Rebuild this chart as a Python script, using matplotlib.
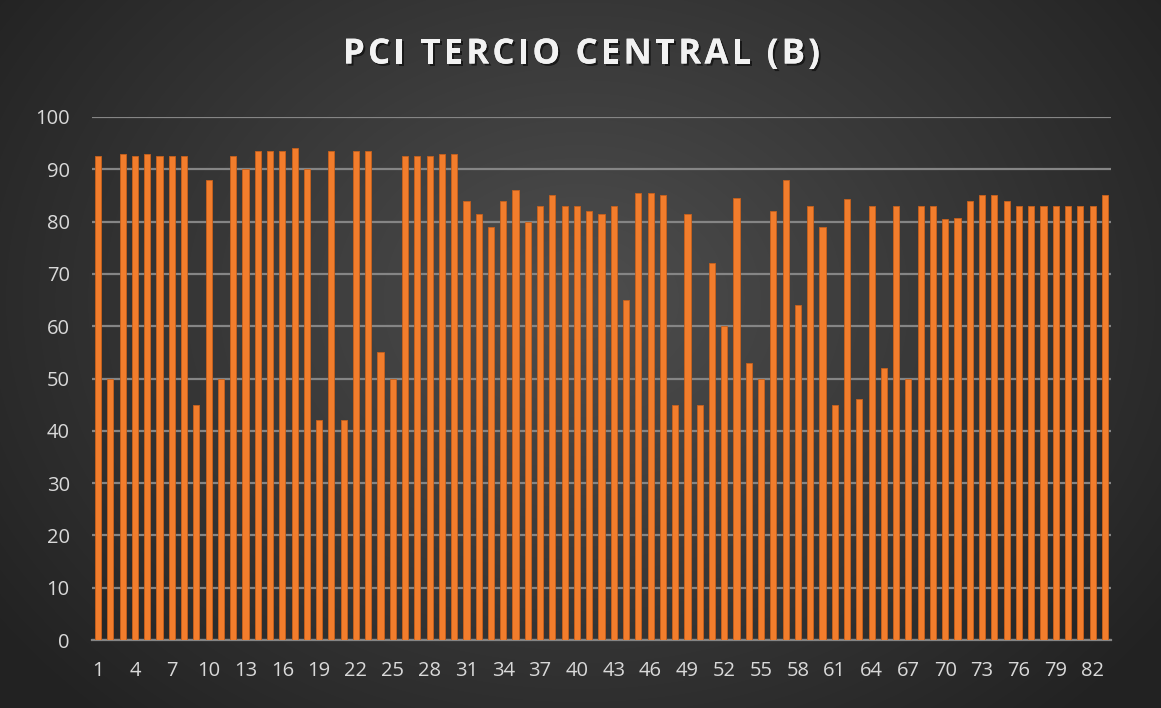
import numpy as np
import matplotlib
matplotlib.use("Agg")
import matplotlib.pyplot as plt
import matplotlib.patheffects as pe
from matplotlib.font_manager import FontProperties, findfont, get_font

categories = list(range(1, 84))
values = [92.5, 50, 93, 92.5, 93, 92.5, 92.5, 92.5, 45, 88,
          50, 92.5, 90, 93.5, 93.5, 93.5, 94, 90, 42, 93.5,
          42, 93.5, 93.5, 55, 50, 92.5, 92.5, 92.5, 93, 93,
          84, 81.5, 79, 84, 86, 80, 83, 85, 83, 83,
          82, 81.5, 83, 65, 85.5, 85.5, 85, 45, 81.5, 45,
          72, 60, 84.5, 53, 50, 82, 88, 64, 83, 79,
          45, 84.3, 46, 83, 52, 83, 50, 83, 83, 80.5,
          80.7, 84, 85, 85, 84, 83, 83, 83, 83, 83,
          83, 83, 85]
xtick_labels = [str(c) for c in categories[::3]]
ytick_values = list(range(0, 101, 10))
title = "PCI TERCIO CENTRAL (B)"

W, H = 1161, 708
fig = plt.figure(figsize=(W / 100, H / 100), dpi=100)

# background radial gradient
bg = fig.add_axes([0, 0, 1, 1], zorder=0)
yy, xx = np.mgrid[0:H, 0:W]
r = np.sqrt(((xx - 580) / 760.0) ** 2 + ((yy - 300) / 600.0) ** 2)
light = np.array([0x4e, 0x4e, 0x4e]) / 255.0
dark = np.array([0x22, 0x22, 0x22]) / 255.0
t = np.clip(r / 0.95, 0, 1)[..., None]
img = light * (1 - t) + dark * t
bg.imshow(img, aspect="auto", extent=[0, 1, 0, 1], origin="upper")
bg.axis("off")

ax = fig.add_axes([92 / W, 68 / H, (1111 - 92) / W, (640 - 117) / H], zorder=1)
ax.patch.set_alpha(0)
ax.bar(categories, values, width=0.5, color="#f27d2c", edgecolor="#c9611c",
       linewidth=0.6, zorder=3)
ax.set_xlim(0.5, 83.5)
ax.set_ylim(0, 100)
ax.set_yticks(ytick_values)
ax.set_yticklabels([str(v) for v in ytick_values])
ax.set_xticks(categories[::3])
ax.set_xticklabels(xtick_labels)
ax.yaxis.grid(True, color="#858585", linewidth=1.6, zorder=1)
ax.set_axisbelow(True)
for s in ["top", "right", "left"]:
    ax.spines[s].set_visible(False)
ax.spines["bottom"].set_color("#858585")
ax.spines["bottom"].set_linewidth(1.6)
ax.tick_params(axis="both", length=0, colors="#d9d9d9", labelsize=14.5)
ax.tick_params(axis="y", pad=16)
ax.tick_params(axis="x", pad=15)
for lab in ax.get_xticklabels() + ax.get_yticklabels():
    lab.set_fontfamily("Open Sans")

# title with letter spacing
fsize = 25
fp = FontProperties(family="Open Sans", weight="bold", size=fsize)
font = get_font(findfont(fp))
font.set_size(fsize, 100)
advs = []
for c in title:
    g = font.load_char(ord(c))
    advs.append(g.linearHoriAdvance / 65536.0)
target_w = 477.0
track = (target_w - sum(advs)) / (len(title) - 1)
x = 343.0
baseline = H - 63.5
shadow = [pe.withSimplePatchShadow(offset=(1.5, -1.5), shadow_rgbFace="black", alpha=0.55), pe.Normal()]
for c, a in zip(title, advs):
    if c != " ":
        fig.text(x / W, baseline / H, c, ha="left", va="baseline", color="#f2f2f2",
                 fontproperties=fp, path_effects=shadow, zorder=5)
    x += a + track

fig.savefig("out.png", dpi=100)
